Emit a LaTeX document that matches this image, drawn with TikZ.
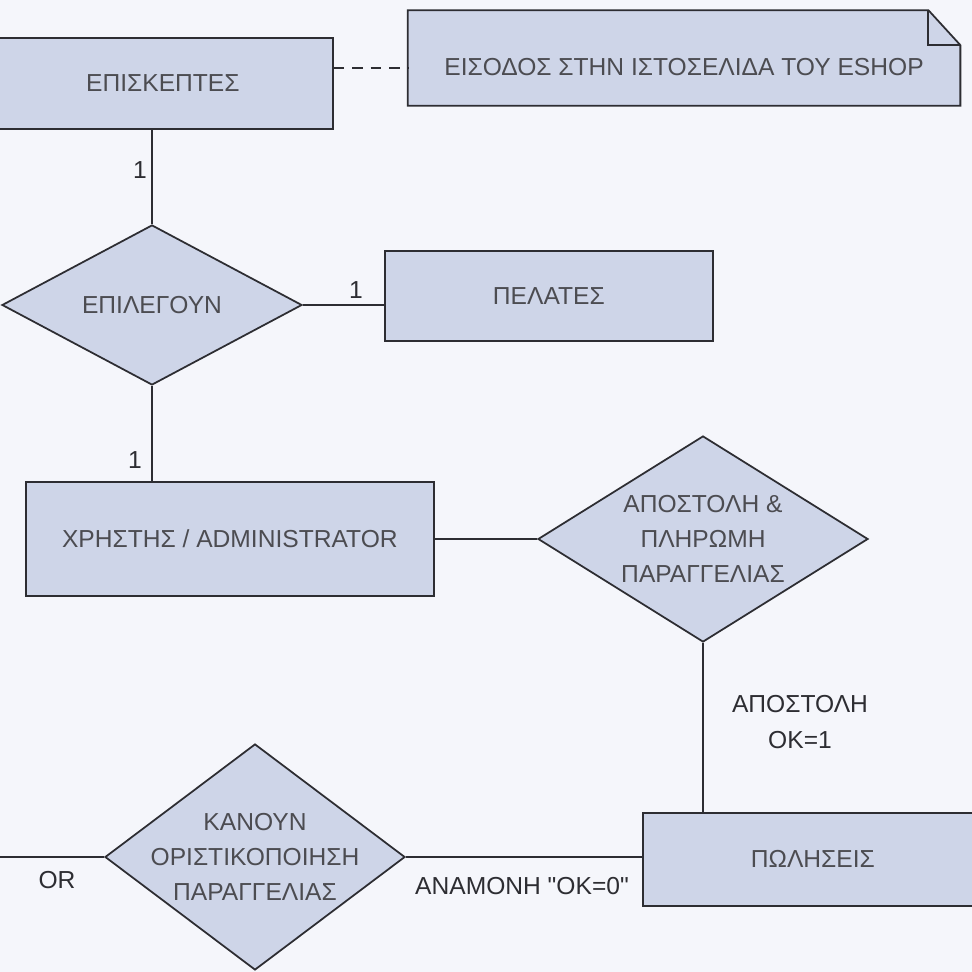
\documentclass[tikz,border=0pt]{standalone}
\usepackage{fontspec}
\setmainfont{Liberation Sans}[Ligatures=TeXOff]
\usetikzlibrary{shapes.geometric,backgrounds}
\definecolor{boxfill}{RGB}{206,213,232}
\definecolor{paper}{RGB}{245,246,251}
\definecolor{ink}{RGB}{45,45,50}
\newcommand{\px}{0.02cm}

\begin{document}
\begin{tikzpicture}[x=\px, y=-\px,
    entity/.style={draw=ink, fill=boxfill, rectangle, anchor=north west, line width=1pt, inner sep=0pt, font=\fontsize{14}{20}\selectfont, text=ink!85},
    rel/.style={draw=ink, fill=boxfill, diamond, line width=1pt, inner sep=0pt},
    reltext/.style={align=center, font=\fontsize{14}{20}\selectfont, text=ink!85},
    card/.style={font=\fontsize{14}{20}\selectfont, text=ink},
    link/.style={draw=ink, line width=1pt}]
    \useasboundingbox (0,0) rectangle (972,972);

    % Entities
    \node[entity, minimum width=340*\px, minimum height=91*\px] (episk) at (-8,37) {ΕΠΙΣΚΕΠΤΕΣ};
    \node[entity, minimum width=328*\px, minimum height=90*\px] (pel) at (384,250) {ΠΕΛΑΤΕΣ};
    \node[entity, minimum width=408*\px, minimum height=114*\px] (xrist) at (25,481) {ΧΡΗΣΤΗΣ / ADMINISTRATOR};
    \node[entity, minimum width=340*\px, minimum height=93*\px] (pol) at (642,812) {ΠΩΛΗΣΕΙΣ};

    % Note
    \node[minimum width=552*\px, minimum height=95*\px, inner sep=0pt] (note) at (684,58) {};
    \node[reltext] (note-text) at (684,67) {ΕΙΣΟΔΟΣ ΣΤΗΝ ΙΣΤΟΣΕΛΙΔΑ ΤΟΥ ESHOP};

    % Relations
    \node[rel, minimum width=300*\px, minimum height=160*\px] (epil) at (152,305) {};
    \node[reltext] (epil-text) at (epil) {ΕΠΙΛΕΓΟΥΝ};
    \node[rel, minimum width=330*\px, minimum height=206*\px] (apost) at (703,539) {};
    \node[reltext] (apost-text) at (apost) {ΑΠΟΣΤΟΛΗ \&\\ΠΛΗΡΩΜΗ\\ΠΑΡΑΓΓΕΛΙΑΣ};
    \node[rel, minimum width=300*\px, minimum height=226*\px] (kanoun) at (255,857) {};
    \node[reltext] (kanoun-text) at (kanoun) {ΚΑΝΟΥΝ\\ΟΡΙΣΤΙΚΟΠΟΙΗΣΗ\\ΠΑΡΑΓΓΕΛΙΑΣ};
    \coordinate (or-end) at (-5,857);

    \begin{scope}[on background layer]
        \fill[paper] (0,0) rectangle (972,972);
        \draw[link, fill=boxfill] (note.north west) -- ([xshift=-32*\px]note.north east)
            -- ([yshift=-35*\px]note.north east) -- (note.south east) -- (note.south west) -- cycle;
        \draw[link] ([xshift=-32*\px]note.north east) -- ([xshift=-32*\px, yshift=-35*\px]note.north east)
            -- ([yshift=-35*\px]note.north east);
    \end{scope}

    % Connectors
    \draw[link, dash pattern=on 6pt off 4.5pt] (episk.east |- 0,68) -- (note.west |- 0,68);
    \draw[link] (epil.north |- episk.south) -- (epil.north);
    \draw[link] (epil.east) -- (epil.east -| pel.west);
    \draw[link] (epil.south) -- (epil.south |- xrist.north);
    \draw[link] (xrist.east) -- (apost.west);
    \draw[link] (apost.south) -- (apost.south |- pol.north);
    \draw[link] (kanoun.east) -- (kanoun.east -| pol.west);
    \draw[link] (or-end) -- (kanoun.west);

    % Labels
    \node[card] (card-episk) at (140,170) {1};
    \node[card] (card-pel) at (356,290) {1};
    \node[card] (card-xrist) at (135,460) {1};
    \node[card, align=center] (lbl-ok1) at (800,722) {ΑΠΟΣΤΟΛΗ\\OK=1};
    \node[card] (lbl-ok0) at (522,886) {ΑΝΑΜΟΝΗ "OK=0"};
    \node[card] (lbl-or) at (57,880) {OR};
\end{tikzpicture}
\end{document}
